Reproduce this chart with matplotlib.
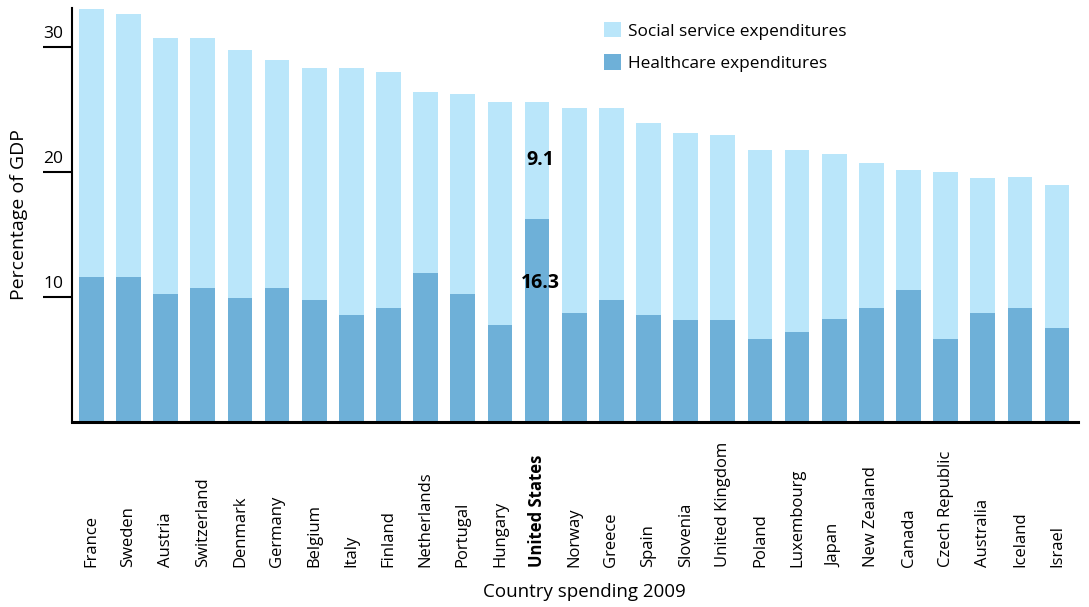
import matplotlib.pyplot as plt
from matplotlib.transforms import blended_transform_factory
import numpy as np

plt.rcParams['font.family'] = ['Open Sans', 'DejaVu Sans']

# values (percentage of GDP, 2009)
countries = ['France', 'Sweden', 'Austria', 'Switzerland', 'Denmark', 'Germany',
             'Belgium', 'Italy', 'Finland', 'Netherlands', 'Portugal', 'Hungary',
             'United States', 'Norway', 'Greece', 'Spain', 'Slovenia',
             'United Kingdom', 'Poland', 'Luxembourg', 'Japan', 'New Zealand',
             'Canada', 'Czech Republic', 'Australia', 'Iceland', 'Israel']
healthcare = [11.6, 11.6, 10.2, 10.7, 9.9, 10.7, 9.7, 8.5, 9.1, 11.9, 10.2, 7.7,
              16.2, 8.7, 9.7, 8.5, 8.1, 8.1, 6.6, 7.2, 8.2, 9.1, 10.5, 6.6,
              8.7, 9.1, 7.5]
total = [33.0, 32.6, 30.7, 30.7, 29.7, 28.9, 28.3, 28.3, 28.0, 26.4, 26.2, 25.6,
         25.6, 25.1, 25.1, 23.9, 23.1, 22.9, 21.7, 21.7, 21.4, 20.7, 20.1, 20.0,
         19.5, 19.6, 18.9]
social = [round(t - h, 1) for t, h in zip(total, healthcare)]
us_labels = ['16.3', '9.1']

light = '#BAE6FA'
dark = '#6EB0D8'

fig = plt.figure(figsize=(10.89, 6.07), dpi=100)
ax = fig.add_axes([0.0658, 0.3053, 0.924, 0.681])

x = np.arange(len(countries))
w = 0.665
b1 = ax.bar(x, healthcare, w, color=dark, label='Healthcare expenditures')
b2 = ax.bar(x, social, w, bottom=healthcare, color=light,
            label='Social service expenditures')

ax.set_xlim(-0.53, 26.56)
ax.set_ylim(0, 33.07)

for s in ['top', 'right']:
    ax.spines[s].set_visible(False)
ax.spines['left'].set_linewidth(1.5)
ax.spines['bottom'].set_linewidth(2.2)

ax.set_xticks([])
ax.set_yticks([10, 20, 30])
ax.tick_params(axis='y', length=21, width=1.5, direction='out', labelleft=False)
ytr = blended_transform_factory(fig.transFigure, ax.transData)
for v in [10, 20, 30]:
    ax.text(43 / 1089, v + 0.35, str(v), transform=ytr, ha='left', va='bottom',
            fontsize=12.5)

# country names, rotated and bottom aligned
xtr = blended_transform_factory(ax.transData, fig.transFigure)
for i, c in enumerate(countries):
    ax.text(i, 1 - 567 / 607, c, transform=xtr, rotation=90, ha='center',
            va='bottom', fontsize=12,
            fontweight='bold' if c == 'United States' else 'normal')

us = countries.index('United States')
ax.text(us + 0.1, 11.1, us_labels[0], ha='center', va='center', fontsize=14,
        fontweight='bold')
ax.text(us + 0.1, 20.9, us_labels[1], ha='center', va='center', fontsize=14,
        fontweight='bold')

fig.text(19 / 1089, 1 - 215 / 607, 'Percentage of GDP', rotation=90,
         ha='center', va='center', fontsize=14)
fig.text(584 / 1089, 1 - 592 / 607, 'Country spending 2009', ha='center',
         va='center', fontsize=13.5)

ax.legend(handles=[b2, b1], loc='upper left', bbox_to_anchor=(604 / 1089, 1 - 22 / 607),
          bbox_transform=fig.transFigure, frameon=False, fontsize=12.4,
          handlelength=1.0, handleheight=1.0, handletextpad=0.4,
          labelspacing=0.85, borderpad=0, borderaxespad=0)

fig.savefig('out.png', dpi=100)
